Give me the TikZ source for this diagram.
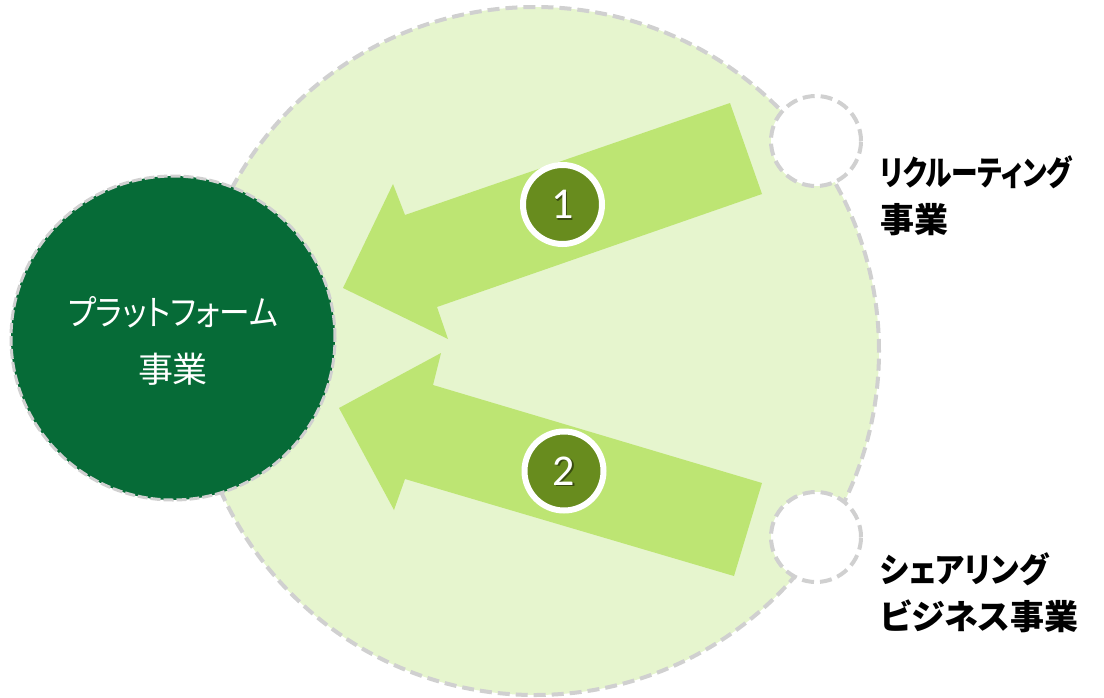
\documentclass[tikz,border=0pt]{standalone}
\usepackage{fontspec}
\usepackage{graphicx}
\newfontfamily\jpfont[RawFeature=+palt]{Noto Sans CJK JP}
\newfontfamily\numfont{Carlito}
\definecolor{fieldfill}{HTML}{E6F5CE}
\definecolor{dashgray}{HTML}{D0D0D0}
\definecolor{arrowfill}{HTML}{BDE573}
\definecolor{numfill}{HTML}{688C1E}
\definecolor{platfill}{HTML}{066B37}
% set a line of kana at a given width, keeping its height
\newcommand{\fitline}[2]{\resizebox{#1}{\height}{#2}}
\begin{document}
\begin{tikzpicture}[x=1pt,y=-1pt,
  field/.style={circle,inner sep=0pt,minimum size=688pt,fill=fieldfill,
    draw=dashgray,line width=4pt,dash pattern=on 12pt off 6pt},
  platform/.style={circle,inner sep=0pt,minimum size=324pt,fill=platfill,
    draw=dashgray,line width=3pt,dash pattern=on 10pt off 3pt},
  plattext/.style={text=white,align=center,inner sep=0pt,
    font=\jpfont\fontsize{35}{57}\selectfont},
  source/.style={circle,inner sep=0pt,minimum size=90pt,fill=white,
    draw=dashgray,line width=4pt,dash pattern=on 12pt off 6pt},
  numbadge/.style={circle,inner sep=0pt,minimum size=79pt,fill=numfill,
    draw=white,line width=6pt},
  numtext/.style={text=white,font=\numfont\fontsize{44}{44}\selectfont},
  numshadow/.style={text=black,opacity=0.45,font=\numfont\fontsize{44}{44}\selectfont},
  blockarrow/.style={fill=arrowfill},
  label/.style={anchor=west,inner sep=0pt,align=left,
    font=\jpfont\bfseries\fontsize{34}{47}\selectfont}]
\useasboundingbox (0,0) rectangle (1104,697);

% large business field
\node[field] (field) at (535,351) {};

% platform business
\node[platform] (plat) at (173,338) {};
\node[plattext] (plat text) at (173,341) {\fitline{210pt}{プラットフォーム}\\事業};

% partner businesses
\node[source] (recruit) at (816,141) {};
\node[source] (share) at (816,537) {};

% block arrow 1: recruiting -> platform
\fill[blockarrow] (730,103) -- (762,194) -- (437,307) -- (448,339)
  -- (343,288) -- (393,184) -- (405,215) -- cycle;
% block arrow 2: sharing -> platform
\fill[blockarrow] (762,483) -- (734,576) -- (405,479) -- (394,510)
  -- (339,408) -- (441,353) -- (433,385) -- cycle;

% numbered badges
\node[numbadge] (b1) at (562.5,204.5) {};
\node[numshadow] (b1s) at ([shift={(1.5,1.5)}]b1) {1};
\node[numtext] (b1t) at (b1) {1};
\node[numbadge] (b2) at (564,471) {};
\node[numshadow] (b2s) at ([shift={(1.5,1.5)}]b2) {2};
\node[numtext] (b2t) at (b2) {2};

% labels
\node[label] (lab1) at (880,196) {\fitline{192pt}{リクルーティング}\\事業};
\node[label] (lab2) at (880,593) {\fitline{168pt}{シェアリング}\\ビジネス事業};
\end{tikzpicture}
\end{document}
